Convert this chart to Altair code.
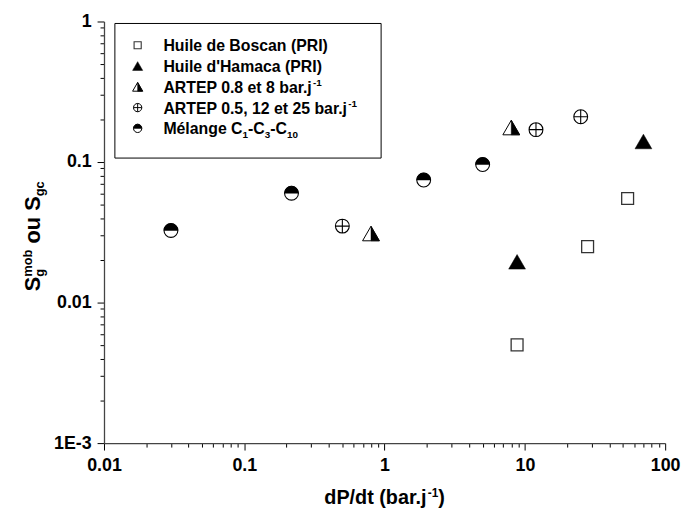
import altair as alt
import pandas as pd

# ---------------- data ----------------
boscan_x = [8.8, 28.0, 54.0]
boscan_y = [0.005, 0.025, 0.055]
hamaca_x = [8.8, 70.0]
hamaca_y = [0.0195, 0.14]
artep_a_x = [0.8, 8.0]
artep_a_y = [0.031, 0.176]
artep_b_x = [0.5, 12.0, 25.0]
artep_b_y = [0.035, 0.17, 0.21]
melange_x = [0.03, 0.217, 1.9, 5.0]
melange_y = [0.0326, 0.060, 0.0745, 0.096]

x_decades = [-2, -1, 0, 1]
y_decades = [-3, -2, -1]
mantissas = [1, 2, 3, 4, 5, 6, 7, 8, 9]

# ---------------- layout ----------------
FONT = "Liberation Sans"
W, H = 567, 426
x_ticks = [round(m * 10 ** k, 10) for k in x_decades for m in mantissas] + [100.0]
y_ticks = [round(m * 10 ** k, 10) for k in y_decades for m in mantissas] + [1.0]

SQUARE = "M-1,-1L1,-1L1,1L-1,1Z"
TRI = "M0,-0.866L1,0.866L-1,0.866Z"
TRI_RIGHT = "M0,-0.866L1,0.866L0,0.866Z"
CIRCLE = "M-1,0A1,1 0 1,1 1,0A1,1 0 1,1 -1,0Z"
CIRCLE_CROSS = CIRCLE + "M-1,0L1,0M0,-1L0,1"
HALF_TOP = "M-1,0A1,1 0 0,1 1,0Z"

AW = {' ': 278, '!': 333, "'": 238, '(': 333, ')': 333, ',': 278, '-': 333, '.': 278,
      '/': 278, 'A': 722, 'B': 722, 'C': 722, 'E': 667, 'H': 722, 'I': 278, 'M': 833,
      'P': 667, 'R': 722, 'S': 667, 'T': 611, 'a': 556, 'b': 611, 'c': 556, 'd': 611,
      'e': 556, 'é': 556, 'g': 611, 'i': 278, 'j': 278, 'l': 278, 'm': 889, 'n': 611,
      'o': 611, 'r': 389, 's': 556, 't': 333, 'u': 611}


def tw(s, size):
    return sum(AW.get(c, 556) for c in s) * size / 1000.0


dummy = pd.DataFrame({"k": [0]})

xscale = alt.Scale(type="log", domain=[0.01, 100], nice=False)
yscale = alt.Scale(type="log", domain=[0.001, 1], nice=False)

is_dec = "abs(log(datum.value)/LN10 - round(log(datum.value)/LN10)) < 1e-6"
tick_size = {"condition": {"test": is_dec, "value": 7}, "value": 4}
label_expr = f"({is_dec}) ? (datum.value < 0.005 ? '1E-3' : format(datum.value, '~g')) : ''"

axis_common = dict(
    title=None, grid=False, labelExpr=label_expr, tickSize=tick_size,
    labelFont=FONT, labelFontSize=18, labelFontWeight="bold", labelColor="black",
    domainColor="#444", domainWidth=1.3, tickColor="black", tickWidth=1,
    labelOverlap=False, labelFlush=False,
)
x_axis = alt.Axis(values=x_ticks, labelPadding=7, **axis_common)
y_axis = alt.Axis(values=y_ticks, labelPadding=6, **axis_common)


def series_df(xs, ys):
    return pd.DataFrame({"x": xs, "y": ys})


def pts(df, shape, size, fill, stroke, sw, filled=True):
    if filled:
        m = alt.Chart(df).mark_point(shape=shape, size=size, filled=True, fill=fill,
                                     stroke=stroke, strokeWidth=sw, opacity=1)
    else:
        m = alt.Chart(df).mark_point(shape=shape, size=size, filled=False,
                                     stroke=stroke, strokeWidth=sw, opacity=1)
    return m.encode(
        x=alt.X("x:Q", scale=xscale, axis=x_axis),
        y=alt.Y("y:Q", scale=yscale, axis=y_axis),
    )


def symbol_layers(df, kind):
    if kind == "square":
        return [pts(df, SQUARE, 144, "white", "#333", 1.3)]
    if kind == "tri":
        return [pts(df, TRI, 289, "black", "black", 0.5)]
    if kind == "halftri":
        return [pts(df, TRI, 289, "white", "black", 1),
                pts(df, TRI_RIGHT, 289, "black", "black", 0.5)]
    if kind == "cross":
        return [pts(df, CIRCLE_CROSS, 196, None, "black", 1.1, filled=False)]
    if kind == "halfcircle":
        return [pts(df, CIRCLE, 196, "white", "black", 1.1),
                pts(df, HALF_TOP, 196, "black", "black", 0.5)]


def legend_symbol(kind, x, y, s):
    shapes = {
        "square": [(SQUARE, 144, "white", "#333", 1.1, True)],
        "tri": [(TRI, 289, "black", "black", 0.5, True)],
        "halftri": [(TRI, 289, "white", "black", 1, True), (TRI_RIGHT, 289, "black", "black", 0.5, True)],
        "cross": [(CIRCLE_CROSS, 196, None, "black", 1, False)],
        "halfcircle": [(CIRCLE, 196, "white", "black", 1, True), (HALF_TOP, 196, "black", "black", 0.5, True)],
    }[kind]
    out = []
    for shape, size, fill, stroke, sw, filled in shapes:
        if filled:
            mk = alt.Chart(dummy).mark_point(shape=shape, size=size * s * s, filled=True, fill=fill,
                                             stroke=stroke, strokeWidth=sw, opacity=1)
        else:
            mk = alt.Chart(dummy).mark_point(shape=shape, size=size * s * s, filled=False,
                                             stroke=stroke, strokeWidth=sw, opacity=1)
        out.append(mk.encode(x=alt.value(x), y=alt.value(y)))
    return out


def text_h(segments, x0, y0):
    out, x = [], x0
    for text, size, shift in segments:
        out.append(alt.Chart(dummy).mark_text(text=text, font=FONT, fontSize=size, fontWeight="bold",
                                              align="left", baseline="alphabetic", color="black")
                   .encode(x=alt.value(x), y=alt.value(y0 - shift)))
        x += tw(text, size)
    return out


def text_v(segments, xb, y0):
    """segments: (text, size, baseline shift, advance in px) - text runs upward."""
    out, y = [], y0
    for text, size, shift, adv in segments:
        out.append(alt.Chart(dummy).mark_text(text=text, font=FONT, fontSize=size, fontWeight="bold",
                                              align="left", baseline="alphabetic", color="black", angle=270)
                   .encode(x=alt.value(xb - shift), y=alt.value(y)))
        y -= adv
    return out


# ---------------- data layers ----------------
layers = []
layers += symbol_layers(series_df(melange_x, melange_y), "halfcircle")
layers += symbol_layers(series_df(boscan_x, boscan_y), "square")
layers += symbol_layers(series_df(hamaca_x, hamaca_y), "tri")
layers += symbol_layers(series_df(artep_a_x, artep_a_y), "halftri")
layers += symbol_layers(series_df(artep_b_x, artep_b_y), "cross")

# ---------------- legend ----------------
legend_kinds = ["square", "tri", "halftri", "cross", "halfcircle"]
legend_texts = [
    [("Huile de Boscan (PRI)", 16, 0)],
    [("Huile d'Hamaca (PRI)", 16, 0)],
    [("ARTEP 0.8 et 8 bar.j", 16, 0), ("-1", 10, 7)],
    [("ARTEP 0.5, 12 et 25 bar.j", 16, 0), ("-1", 10, 7)],
    [("Mélange C", 16, 0), ("1", 10, -4), ("-C", 16, 0), ("3", 10, -4), ("-C", 16, 0), ("10", 10, -4)],
]
legend_rows = [24, 45, 66, 87, 108]

layers.append(alt.Chart(dummy).mark_rect(fill="white", stroke="black", strokeWidth=1)
              .encode(x=alt.value(11), x2=alt.value(280), y=alt.value(2), y2=alt.value(138)))
for kind, segs, ry in zip(legend_kinds, legend_texts, legend_rows):
    layers += legend_symbol(kind, 34, ry, 0.6)
    layers += text_h(segs, 60, ry + 6)

# ---------------- axis titles ----------------
xt = [("dP/dt (bar.j", 20, 0), ("-1", 12, 8), (")", 20, 0)]
xt_w = sum(tw(t, s) for t, s, _ in xt)
layers += text_h(xt, W / 2 - xt_w / 2, 488)

TS, SS = 22, 13
sp = tw(" ", TS)
yt = [("S", TS, 0, tw("S", TS)),
      ("g", SS, -4, 0),
      ("mob", SS, 8, tw("mob", SS) + sp),
      ("ou", TS, 0, tw("ou", TS) + sp),
      ("S", TS, 0, tw("S", TS)),
      ("gc", SS, -4, tw("gc", SS))]
yt_w = sum(a for *_, a in yt)
layers += text_v(yt, -65, 217 + yt_w / 2)

chart = alt.layer(*layers).properties(
    width=W, height=H,
    autosize=alt.AutoSizeParams(type="none"),
    padding={"left": 97, "top": 11, "right": 16, "bottom": 70},
    background="white",
).configure_view(stroke=None)

chart.save("out.html", embed_options={"renderer": "svg", "actions": False})
